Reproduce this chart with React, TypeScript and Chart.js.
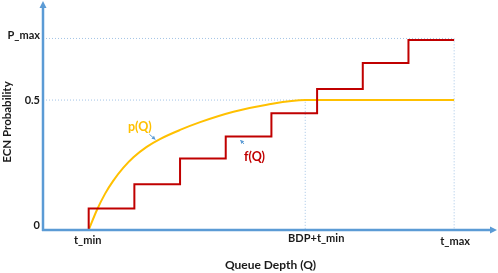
import React, { useEffect, useRef } from "react";
import { Chart, registerables } from "chart.js";

Chart.register(...registerables);

// ---- data ----
const X_TICK_VALUES = [10, 57.4, 90];
const X_TICK_LABELS = ["t_min", "BDP+t_min", "t_max"];
const Y_TICK_VALUES = [0, 0.5, 0.737];
const Y_TICK_LABELS = ["0", "0.5", "P_max"];

const STEP_X = [10, 20, 30, 40, 50, 60, 70, 80, 90];
const STEP_Y = [0, 0.083, 0.176, 0.275, 0.36, 0.449, 0.543, 0.643, 0.731];

const CURVE_X = [10, 11.8, 13.6, 15.4, 17.6, 19.8, 22.7, 25.6, 30, 34.4, 41.7, 49, 57.4, 90];
const CURVE_Y = [0, 0.077, 0.14, 0.19, 0.24, 0.28, 0.32, 0.35, 0.385, 0.415, 0.455, 0.482, 0.5, 0.5];

const NOTE_LABELS = ["p(Q)", "f(Q)"];
const NOTE_X = [21.2, 46.3];
const NOTE_Y = [0.396, 0.281];
const NOTE_ARROW_X0 = [23.3, 44.0];
const NOTE_ARROW_Y0 = [0.368, 0.331];
const NOTE_ARROW_X1 = [24.6, 43.2];
const NOTE_ARROW_Y1 = [0.348, 0.346];

const X_TITLE = "Queue Depth (Q)";
const Y_TITLE = "ECN Probability";

const X_MAX = 99.6;
const Y_MAX = 0.885;

// ---- styles ----
const AXIS_COLOR = "#5B9BD5";
const GUIDE_COLOR = "#A3C4E6";
const RED = "#C00000";
const GOLD = "#FFC000";
const TEXT = "#1a1a1a";
const FONT = "Lato";
const NOTE_COLORS = [GOLD, RED];
const Y_LABEL_DY = [-5, 0, -3];
const X_LABEL_DX = [-1, 11, 1];
const X_LABEL_DY = [0, -2, 1];

function arrowHead(ctx: CanvasRenderingContext2D, x0: number, y0: number, x1: number, y1: number, len: number, half: number) {
  const a = Math.atan2(y1 - y0, x1 - x0);
  ctx.beginPath();
  ctx.moveTo(x1, y1);
  ctx.lineTo(x1 - len * Math.cos(a) + half * Math.sin(a), y1 - len * Math.sin(a) - half * Math.cos(a));
  ctx.lineTo(x1 - len * Math.cos(a) - half * Math.sin(a), y1 - len * Math.sin(a) + half * Math.cos(a));
  ctx.closePath();
  ctx.fill();
}

const overlay = {
  id: "overlay",
  afterDatasetsDraw(chart: any) {
    const { ctx, chartArea, scales } = chart;
    const xs = scales.x;
    const ys = scales.y;
    const ox = xs.getPixelForValue(0);
    const oy = ys.getPixelForValue(0);
    ctx.save();
    // axes with arrows
    ctx.strokeStyle = AXIS_COLOR;
    ctx.fillStyle = AXIS_COLOR;
    ctx.lineWidth = 2.5;
    ctx.beginPath();
    ctx.moveTo(ox, oy + 1);
    ctx.lineTo(ox, chartArea.top + 7);
    ctx.stroke();
    arrowHead(ctx, ox, oy, ox, chartArea.top + 1, 7, 3.5);
    ctx.beginPath();
    ctx.moveTo(ox - 1, oy);
    ctx.lineTo(chartArea.right - 7, oy);
    ctx.stroke();
    arrowHead(ctx, ox, oy, chartArea.right - 1, oy, 7, 3.5);

    // annotations
    ctx.lineWidth = 1;
    for (let i = 0; i < NOTE_LABELS.length; i++) {
      const ax0 = xs.getPixelForValue(NOTE_ARROW_X0[i]);
      const ay0 = ys.getPixelForValue(NOTE_ARROW_Y0[i]);
      const ax1 = xs.getPixelForValue(NOTE_ARROW_X1[i]);
      const ay1 = ys.getPixelForValue(NOTE_ARROW_Y1[i]);
      ctx.strokeStyle = AXIS_COLOR;
      ctx.fillStyle = AXIS_COLOR;
      ctx.beginPath();
      ctx.moveTo(ax0, ay0);
      ctx.lineTo(ax1, ay1);
      ctx.stroke();
      arrowHead(ctx, ax0, ay0, ax1, ay1, 3.5, 2);
      ctx.fillStyle = NOTE_COLORS[i];
      ctx.font = `bold 12.5px ${FONT}`;
      ctx.textAlign = "center";
      ctx.textBaseline = "middle";
      ctx.fillText(NOTE_LABELS[i], xs.getPixelForValue(NOTE_X[i]), ys.getPixelForValue(NOTE_Y[i]));
    }

    // tick labels
    ctx.fillStyle = TEXT;
    ctx.font = `bold 11px ${FONT}`;
    ctx.textAlign = "right";
    ctx.textBaseline = "middle";
    for (let i = 0; i < Y_TICK_VALUES.length; i++) {
      ctx.fillText(Y_TICK_LABELS[i], ox - 3, ys.getPixelForValue(Y_TICK_VALUES[i]) + Y_LABEL_DY[i]);
    }
    ctx.textAlign = "center";
    ctx.textBaseline = "alphabetic";
    for (let i = 0; i < X_TICK_VALUES.length; i++) {
      ctx.fillText(X_TICK_LABELS[i], xs.getPixelForValue(X_TICK_VALUES[i]) + X_LABEL_DX[i], oy + 14 + X_LABEL_DY[i]);
    }

    // y axis title
    ctx.font = `bold 11.5px ${FONT}`;
    ctx.textAlign = "center";
    ctx.textBaseline = "middle";
    ctx.translate(7, (chartArea.top + oy) / 2 + 7);
    ctx.rotate(-Math.PI / 2);
    ctx.fillText(Y_TITLE, 0, 0);
    ctx.restore();
  },
};

export default function App() {
  const ref = useRef<HTMLCanvasElement | null>(null);
  useEffect(() => {
    if (!ref.current) return;
    const pmax = Y_TICK_VALUES[2];
    const half = Y_TICK_VALUES[1];
    const bdp = X_TICK_VALUES[1];
    const tmax = X_TICK_VALUES[2];
    const chart = new Chart(ref.current, {
      type: "line",
      data: {
        datasets: [
          {
            label: "f(Q)",
            data: STEP_X.map((x, i) => ({ x, y: STEP_Y[i] })),
            borderColor: RED,
            borderWidth: 2,
            stepped: "after",
            pointRadius: 0,
            fill: false,
            order: 1,
          },
          {
            label: "p(Q)",
            data: CURVE_X.map((x, i) => ({ x, y: CURVE_Y[i] })),
            borderColor: GOLD,
            borderWidth: 2,
            cubicInterpolationMode: "monotone",
            pointRadius: 0,
            fill: false,
            order: 2,
          },
          {
            label: "pmax guide",
            data: [
              { x: 0, y: pmax },
              { x: tmax, y: pmax },
              { x: tmax, y: 0 },
            ],
            borderColor: GUIDE_COLOR,
            borderWidth: 1,
            borderDash: [1, 2],
            pointRadius: 0,
            fill: false,
            order: 3,
          },
          {
            label: "half guide",
            data: [
              { x: 0, y: half },
              { x: bdp, y: half },
              { x: bdp, y: 0 },
            ],
            borderColor: GUIDE_COLOR,
            borderWidth: 1,
            borderDash: [1, 2],
            pointRadius: 0,
            fill: false,
            order: 3,
          },
        ],
      },
      options: {
        animation: false,
        responsive: false,
        layout: { padding: 0 },
        plugins: { legend: { display: false }, tooltip: { enabled: false } },
        scales: {
          x: {
            type: "linear",
            min: 0,
            max: X_MAX,
            ticks: { display: false },
            grid: { display: false },
            border: { display: false },
            title: {
              display: true,
              text: X_TITLE,
              color: TEXT,
              font: { family: FONT, size: 12, weight: "bold" },
              padding: { top: 0, bottom: 1 },
            },
            afterFit: (s: any) => {
              s.height = 43;
            },
          },
          y: {
            type: "linear",
            min: 0,
            max: Y_MAX,
            ticks: { display: false },
            grid: { display: false },
            border: { display: false },
            title: { display: false },
            afterFit: (s: any) => {
              s.width = 43;
            },
          },
        },
      } as any,
      plugins: [overlay],
    });
    return () => chart.destroy();
  }, []);
  return (
    <div style={{ position: "absolute", left: 0, top: 0, width: 498, height: 273, background: "#fff" }}>
      <canvas ref={ref} width={498} height={273} />
    </div>
  );
}
